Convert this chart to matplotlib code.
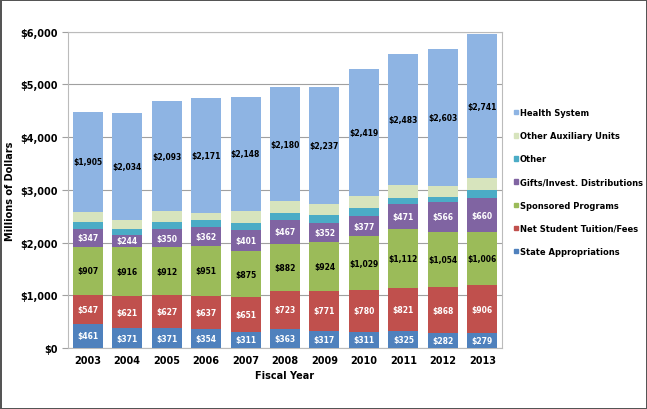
import matplotlib.pyplot as plt
from matplotlib.patches import Patch
import numpy as np

# Fiscal years and revenue sources (millions of dollars), bottom to top
years = ["2003", "2004", "2005", "2006", "2007", "2008", "2009", "2010", "2011", "2012", "2013"]
state_appropriations = [461, 371, 371, 354, 311, 363, 317, 311, 325, 282, 279]
net_student_tuition = [547, 621, 627, 637, 651, 723, 771, 780, 821, 868, 906]
sponsored_programs = [907, 916, 912, 951, 875, 882, 924, 1029, 1112, 1054, 1006]
gifts_invest = [347, 244, 350, 362, 401, 467, 352, 377, 471, 566, 660]
other = [130, 100, 130, 120, 140, 130, 160, 150, 125, 95, 140]
other_auxiliary = [190, 170, 200, 140, 230, 215, 200, 230, 240, 200, 225]
health_system = [1905, 2034, 2093, 2171, 2148, 2180, 2237, 2419, 2483, 2603, 2741]

series_names = ["State Appropriations", "Net Student Tuition/Fees", "Sponsored Programs",
                "Gifts/Invest. Distributions", "Other", "Other Auxiliary Units", "Health System"]
series_values = [state_appropriations, net_student_tuition, sponsored_programs,
                 gifts_invest, other, other_auxiliary, health_system]
series_colors = ["#4F81BD", "#C0504D", "#9BBB59", "#8064A2", "#4BACC6", "#D7E4BD", "#8EB4E3"]
label_colors = ["white", "white", "black", "white", None, None, "black"]

figure = plt.figure(figsize=(6.47, 4.10), dpi=100, edgecolor="#555555", linewidth=2)
axes = figure.add_axes([0.105, 0.149, 0.671, 0.771])

x = np.arange(len(years))
bottom = np.zeros(len(years))
for name, values, color, tcolor in zip(series_names, series_values, series_colors, label_colors):
    values = np.array(values)
    axes.bar(x, values, 0.76, bottom=bottom, color=color, label=name, zorder=3)
    if tcolor is not None:
        for xi, b, v in zip(x, bottom, values):
            axes.text(xi, b + v / 2, "${:,}".format(int(v)), ha="center", va="center",
                      fontsize=5.5, fontweight="bold", color=tcolor, zorder=4)
    bottom += values

axes.set_xlim(-0.5, len(years) - 0.5)
axes.set_ylim(0, 6000)
axes.set_yticks(range(0, 6001, 1000))
axes.get_yaxis().set_major_formatter(plt.FuncFormatter(lambda v, loc: "${:,}".format(int(v))))
axes.set_xticks(x)
axes.set_xticklabels(years)
for lbl in axes.get_xticklabels() + axes.get_yticklabels():
    lbl.set_fontweight("bold")
    lbl.set_fontsize(7)
axes.tick_params(axis="y", length=4, color="#a0a0a0", pad=3)
axes.tick_params(axis="x", length=0, pad=5)

axes.grid(axis="y", color="#a0a0a0", linewidth=0.8, zorder=0)
for side in ["top", "right", "left", "bottom"]:
    axes.spines[side].set_color("#bbbbbb")
    axes.spines[side].set_linewidth(0.8)

axes.set_ylabel("Millions of Dollars", fontsize=7, fontweight="bold", labelpad=4)
axes.set_xlabel("Fiscal Year", fontsize=7, fontweight="bold", labelpad=4)

handles = [Patch(facecolor=c, edgecolor=c) for c in series_colors][::-1]
legend = figure.legend(handles, series_names[::-1], loc="upper left",
                       bbox_to_anchor=(0.789, 0.742), frameon=False,
                       handlelength=0.45, handleheight=0.45, handletextpad=0.3,
                       labelspacing=1.7, borderaxespad=0,
                       prop={"size": 6, "weight": "bold"})

plt.savefig("out.png", dpi=100)
